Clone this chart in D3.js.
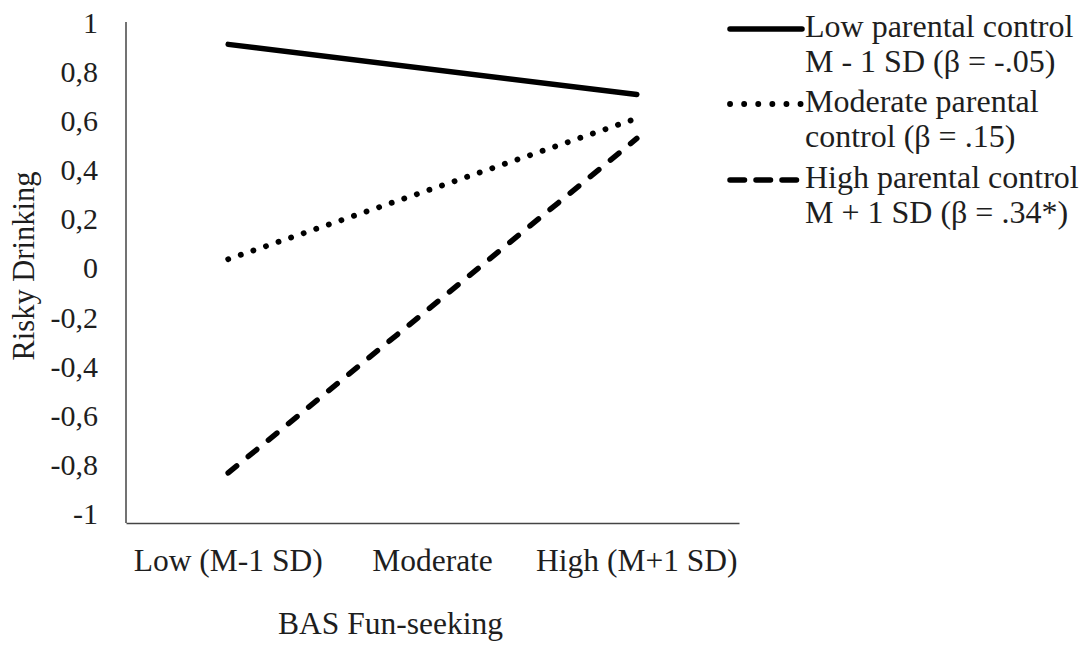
<!DOCTYPE html>
<html>
<head>
<meta charset="utf-8">
<script src="https://cdn.jsdelivr.net/npm/d3@7"></script>
<style>
  html, body { margin: 0; padding: 0; background: #fff; }
  svg { display: block; }
</style>
</head>
<body>
<svg id="chart" width="1087" height="652"></svg>
<script>
// ---- data ----
const categories = ["Low (M-1 SD)", "Moderate", "High (M+1 SD)"];
const yTicks = [1, 0.8, 0.6, 0.4, 0.2, 0, -0.2, -0.4, -0.6, -0.8, -1];
const lowControl = [0.911, null, 0.707];
const moderateControl = [0.037, null, 0.610];
const highControl = [-0.833, null, 0.528];
const seriesNames = [
  ["Low parental control", "M - 1 SD (β = -.05)"],
  ["Moderate parental", "control (β = .15)"],
  ["High parental control", "M + 1 SD (β = .34*)"]
];
const yTitle = "Risky Drinking";
const xTitle = "BAS Fun-seeking";

// ---- layout ----
const FONT = '"Liberation Serif"';
const INK = "#1e1e1e";
const svg = d3.select("#chart");
const plotLeft = 126, plotRight = 739, plotTop = 22, plotBottom = 523;

const x = d3.scaleBand().domain(categories).range([plotLeft, plotRight]).padding(0);
const y = d3.scaleLinear().domain([-1, 1]).range([514, 22.5]);

const fmt = v => {
  if (v === 0) return "0";
  const s = Math.abs(v) === 1 ? String(Math.abs(v)) : Math.abs(v).toFixed(1).replace(".", ",");
  return (v < 0 ? "-" : "") + s;
};

// Y axis
const yAxis = d3.axisLeft(y).tickValues(yTicks).tickSize(0).tickPadding(28).tickFormat(fmt);
const gy = svg.append("g").attr("transform", `translate(${plotLeft},0)`).call(yAxis);
gy.select(".domain").remove();
gy.selectAll("text").style("font-family", FONT).style("font-size", "30px").attr("fill", INK);
svg.append("line")
  .attr("x1", plotLeft).attr("x2", plotLeft)
  .attr("y1", plotTop).attr("y2", plotBottom)
  .attr("stroke", "#444").attr("stroke-width", 1.5);

// X axis
const xAxis = d3.axisBottom(x).tickSize(0).tickPadding(26);
const gx = svg.append("g").attr("transform", `translate(0,${plotBottom})`).call(xAxis);
gx.select(".domain").attr("stroke", "#444").attr("stroke-width", 1.5);
gx.selectAll("text").style("font-family", FONT).style("font-size", "31.5px").attr("fill", INK);

// Axis titles
svg.append("text")
  .attr("transform", `translate(34,266) rotate(-90)`)
  .attr("text-anchor", "middle")
  .style("font-family", FONT).style("font-size", "30.5px").attr("fill", INK)
  .text(yTitle);
svg.append("text")
  .attr("x", 278)
  .attr("y", 634)
  .attr("text-anchor", "start")
  .style("font-family", FONT).style("font-size", "31.5px").attr("fill", INK)
  .text(xTitle);

// Lines
const styles = [
  { dash: null, width: 5.5, legDash: null },
  { dash: "0.1 13.2", width: 5.8, legDash: "0.1 14" },
  { dash: "11 15", width: 5.5, legDash: "14.5 11.5" }
];
const allSeries = [lowControl, moderateControl, highControl];
const line = d3.line()
  .x(d => x(d.c) + x.bandwidth() / 2)
  .y(d => y(d.v));

allSeries.forEach((vals, i) => {
  const pts = vals.map((v, j) => ({ c: categories[j], v })).filter(d => d.v !== null);
  svg.append("path")
    .datum(pts)
    .attr("d", line)
    .attr("fill", "none")
    .attr("stroke", "#000")
    .attr("stroke-width", styles[i].width)
    .attr("stroke-linecap", "round")
    .attr("stroke-dasharray", styles[i].dash);
});

// Legend
const legY = [29, 104, 180];
const legendX0 = 730, legendX1 = 802;
seriesNames.forEach((lines, i) => {
  svg.append("line")
    .attr("x1", legendX0).attr("x2", legendX1)
    .attr("y1", legY[i]).attr("y2", legY[i])
    .attr("stroke", "#000")
    .attr("stroke-width", styles[i].width)
    .attr("stroke-linecap", "round")
    .attr("stroke-dasharray", styles[i].legDash);
  const t = svg.append("text")
    .attr("x", 805)
    .attr("y", legY[i] + 8)
    .style("font-family", FONT).style("font-size", "32px").attr("fill", INK);
  lines.forEach((s, k) => {
    t.append("tspan").attr("x", 805).attr("dy", k === 0 ? 0 : 35).text(s);
  });
});
</script>
</body>
</html>
